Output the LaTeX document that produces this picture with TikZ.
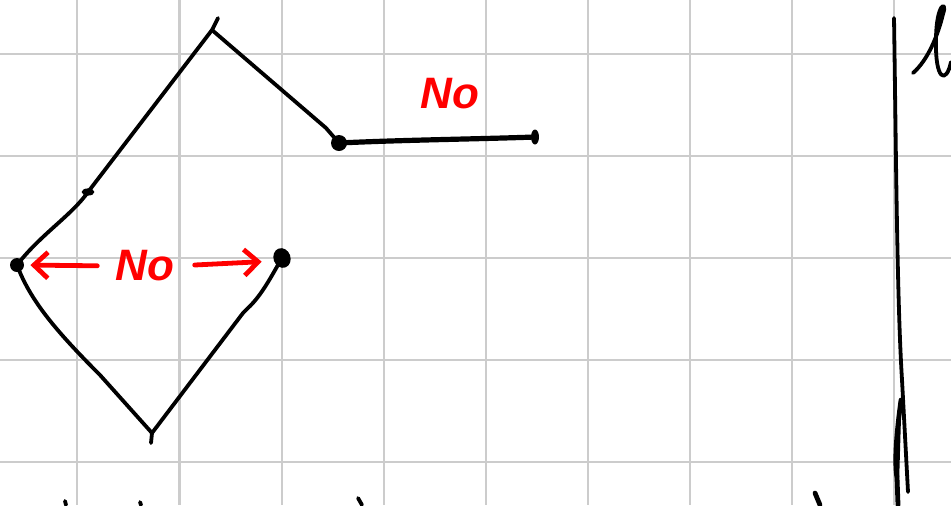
\documentclass[tikz,border=0pt]{standalone}
\usepackage{fontspec}
\setsansfont{Liberation Sans}
\usetikzlibrary{arrows.meta,shapes.geometric}
\begin{document}
\begin{tikzpicture}[x=0.5pt,y=-0.5pt,
  ink/.style={line width=1.9pt, line cap=round, line join=round},
  thickink/.style={line width=2.6pt, line cap=round, line join=round},
  gridline/.style={draw=black!20, line width=1.1pt},
  redink/.style={red, line width=2.4pt, line cap=round},
  redtip/.style={-{Straight Barb[length=7pt,width=13pt,line width=2.4pt]}},
  lbl/.style={text=red, font=\sffamily\bfseries\itshape\fontsize{22}{22}\selectfont, inner sep=0pt},
  dotn/.style={ellipse, fill=black, inner sep=0pt, minimum width=#1, minimum height=#1},
  dote/.style={ellipse, fill=black, inner sep=0pt},
]
\useasboundingbox (0,0) rectangle (951,505);
\fill[white] (0,0) rectangle (951,505);
% grid
\foreach \x in {77,179.5,282,384,486,588,690,792,894} \draw[gridline] (\x,0) -- (\x,505);
\foreach \y in {54,156,258,360,462} \draw[gridline] (0,\y) -- (951,\y);
% vertices
\coordinate (tick) at (88,192);
\coordinate (top) at (212,30);
\coordinate (flick) at (218,18);
\coordinate (bot) at (152,433);
\coordinate (bottick) at (151,443);
\coordinate (lrbend) at (248,308);
\node[dotn=7pt] (L) at (17,265) {};
\node[dote, minimum width=8.5pt, minimum height=10pt, rotate=20] (R) at (282,258) {};
\node[dotn=8pt] (M) at (339,143) {};
\node[dote, minimum width=4pt, minimum height=7.5pt] (E) at (535,137) {};
% diamond shape
\draw[ink] (L.center) .. controls (40,235) and (72,215) .. (tick) -- (top) -- (flick);
\fill (tick) ellipse (3.2pt and 1.8pt);
\draw[ink] (top) -- (326,128) -- (M.center);
\draw[thickink] (M.center) .. controls (400,140) and (480,139) .. (E.center);
\draw[ink] (L.center) .. controls (30,300) and (55,330) .. (100,375) -- (bot) -- (bottick);
\draw[ink] (bot) -- (243,313) -- (lrbend) .. controls (262,295) and (272,275) .. (R.center);
% red labels
\node[lbl] (no1) at (450,94) {No};
\node[lbl] (no2) at (145,266) {No};
\draw[redink, redtip, shorten <=9pt, shorten >=3pt] (no2.west) -- (L.east);
\draw[redink, redtip, shorten <=10pt, shorten >=6pt] (no2.east) -- (R.west);
% vertical line at right
\coordinate (vt) at (894,18);
\coordinate (vb) at (908,492);
\draw[ink] (vt) .. controls (896,150) and (897,300) .. (902,380) -- (vb);
\draw[ink, line width=2.4pt] (901,400) .. controls (897,430) and (894,460) .. (897,478) -- (898,505);
\draw[ink] (899,420) -- (897,488);
% cursive l at top right
\draw[ink] (913,73) .. controls (928,60) and (938,35) .. (943,14) .. controls (948,0) and (936,2) .. (936,40) .. controls (935,80) and (946,85) .. (951,62);
% fragments at the bottom edge
\draw[ink] (65,501) -- (66,505);
\draw[ink] (140,502) -- (141,505);
\draw[ink] (358,498) -- (362,505);
\draw[ink, line width=2.4pt] (815,493) -- (820,505);
\end{tikzpicture}
\end{document}
